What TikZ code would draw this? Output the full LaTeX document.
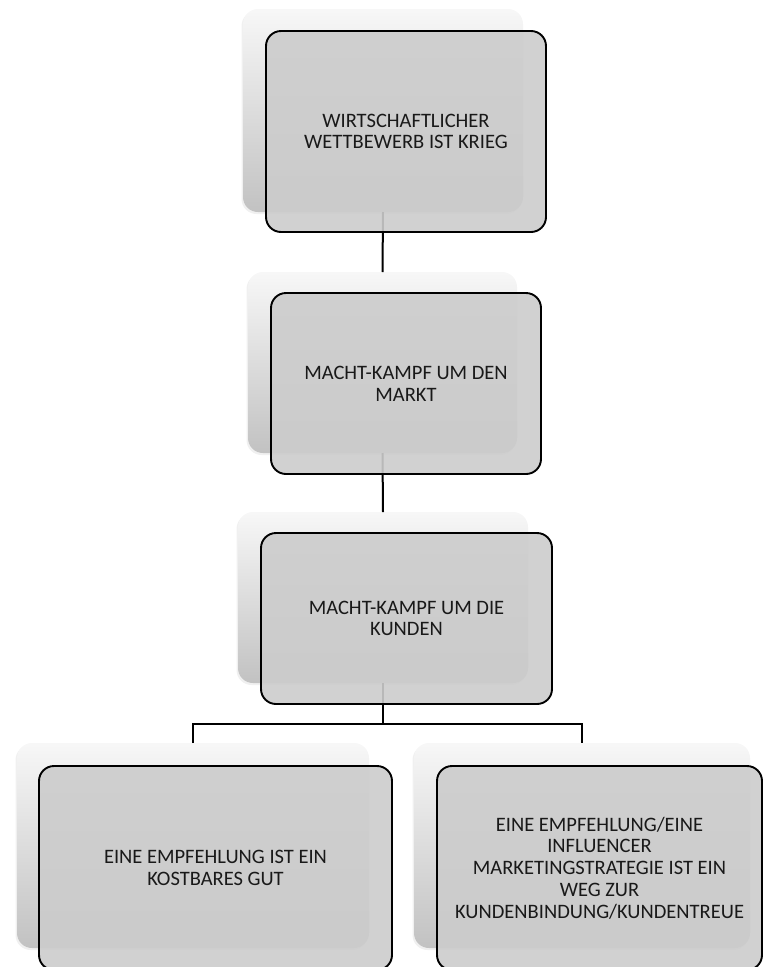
\documentclass[tikz,border=0pt]{standalone}
\usepackage{fontspec}
\setmainfont{Carlito}
\usetikzlibrary{shadows}
\begin{document}
\begin{tikzpicture}[x=1pt,y=-1pt,
  backbox/.style={rectangle, rounded corners=15pt, inner sep=0pt, outer sep=0pt,
    top color=white!97!black, bottom color=black!24, draw=none,
    drop shadow={opacity=0.12, shadow xshift=-1.5pt, shadow yshift=-2pt}},
  frontbox/.style={rectangle, rounded corners=15pt, inner sep=0pt, outer sep=0pt,
    draw=black, line width=1.9pt, fill=black!20, fill opacity=0.9, text opacity=1,
    align=center, text=black!90, font=\fontsize{20.5}{21.8}\selectfont},
  link/.style={draw=black, line width=2pt}]
\useasboundingbox (0,0) rectangle (763,967);
% back boxes
\node[backbox, minimum width=280pt, minimum height=203pt] (sA) at (383,110.5) {};
\node[backbox, minimum width=269pt, minimum height=181pt] (sB) at (382.5,362.5) {};
\node[backbox, minimum width=290pt, minimum height=171pt] (sC) at (383,597.5) {};
\node[backbox, minimum width=352pt, minimum height=205pt] (sD) at (193,845.5) {};
\node[backbox, minimum width=336pt, minimum height=205pt] (sE) at (582,845.5) {};
% connectors
\coordinate (j) at (383,724);
\path[link] (sA.south) -- (sB.north);
\path[link] (sB.south) -- (sC.north);
\path[link] (sC.south) -- (j);
\path[link] (sD.north) |- (j) -| (sE.north);
% front boxes
\node[frontbox, minimum width=280pt, minimum height=201pt] (fA) at (406,131.5)
  {WIRTSCHAFTLICHER\\WETTBEWERB IST KRIEG};
\node[frontbox, minimum width=270pt, minimum height=181pt] (fB) at (406,383.5)
  {MACHT-KAMPF UM DEN\\MARKT};
\node[frontbox, minimum width=291pt, minimum height=171pt] (fC) at (406.5,618.5)
  {MACHT-KAMPF UM DIE\\KUNDEN};
\node[frontbox, minimum width=353pt, minimum height=204pt] (fD) at (215.5,868)
  {EINE EMPFEHLUNG IST EIN\\KOSTBARES GUT};
\node[frontbox, minimum width=325pt, minimum height=204pt] (fE) at (599.5,868)
  {EINE EMPFEHLUNG/EINE\\INFLUENCER\\MARKETINGSTRATEGIE IST EIN\\WEG ZUR\\KUNDENBINDUNG/KUNDENTREUE};
\end{tikzpicture}
\end{document}
